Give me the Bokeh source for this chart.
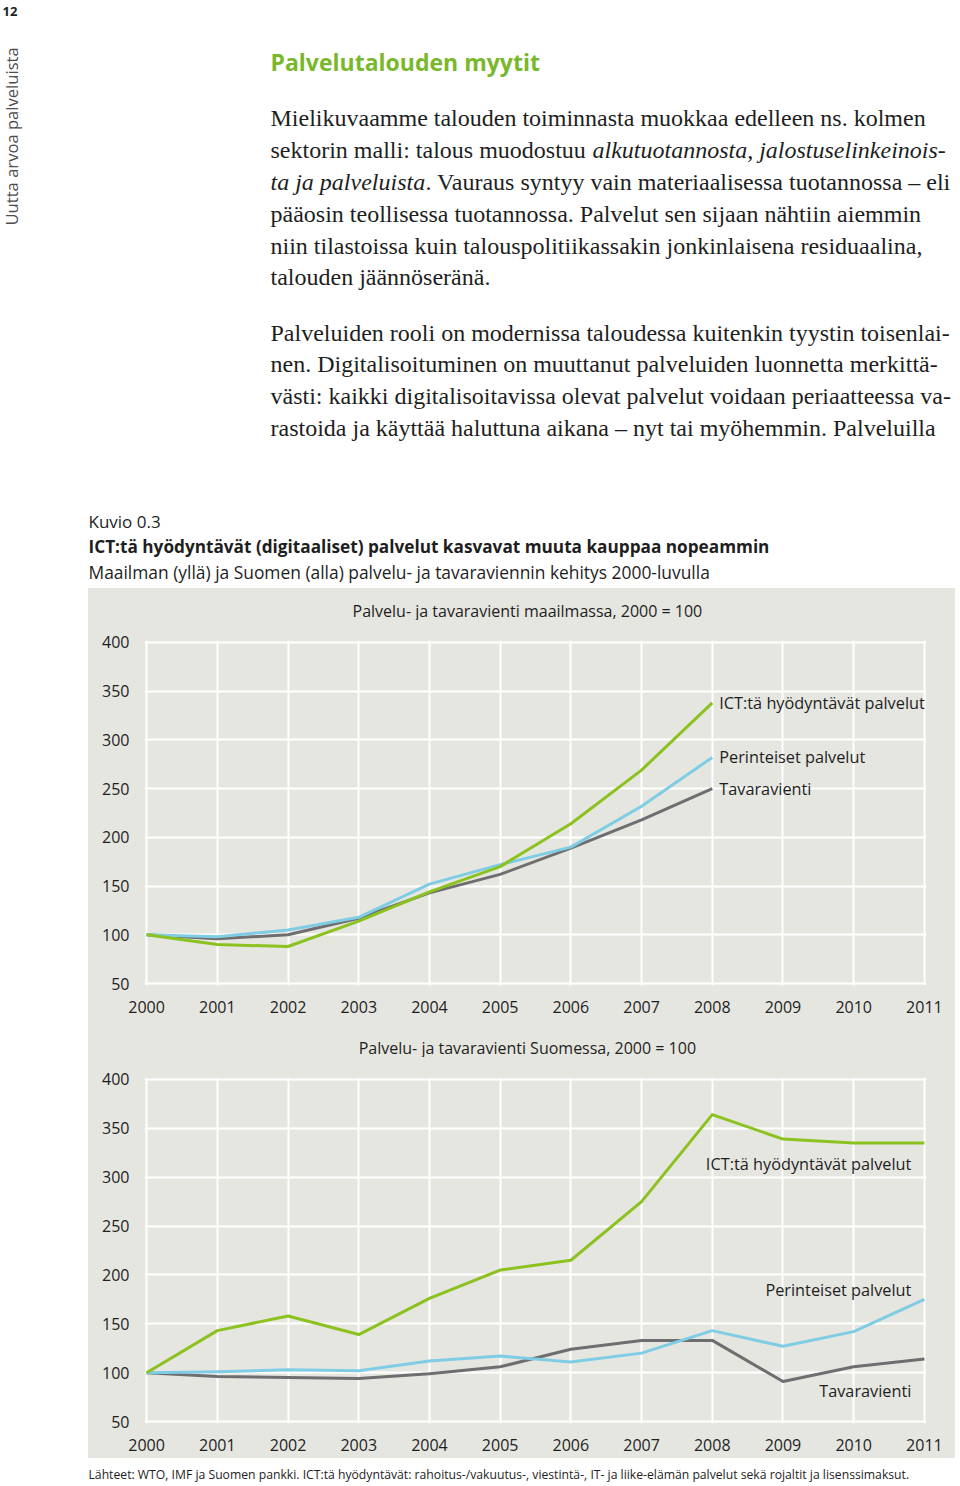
import math
from bokeh.plotting import figure
from bokeh.layouts import column, row
from bokeh.models import Range1d, FixedTicker, Spacer, ColumnDataSource
from bokeh.core.properties import value
from bokeh.embed import file_html
from bokeh.resources import INLINE

# ---------------- data ----------------
years = [2000, 2001, 2002, 2003, 2004, 2005, 2006, 2007, 2008, 2009, 2010, 2011]
world_years = years[:9]
world_ict = [100, 90, 88, 114, 144, 170, 214, 269, 338]
world_trad = [100, 98, 105, 118, 152, 172, 190, 232, 282]
world_goods = [100, 96, 100, 117, 143, 162, 189, 218, 250]
fin_ict = [100, 143, 158, 139, 176, 205, 215, 275, 364, 339, 335, 335]
fin_trad = [100, 101, 103, 102, 112, 117, 111, 120, 143, 127, 142, 175]
fin_goods = [100, 96, 95, 94, 99, 106, 124, 133, 133, 91, 106, 114]
y_ticks = [50, 100, 150, 200, 250, 300, 350, 400]
series_names = ["ICT:tä hyödyntävät palvelut", "Perinteiset palvelut", "Tavaravienti"]

GREEN = "#8cc21f"
BLUE = "#7fcde4"
GREY = "#6e6e70"
BG = "#e6e6e1"
TXT = "#1e1e1e"
SANS = "Open Sans"
SERIF = "Liberation Serif"

W = 955
LEFT = 88


def blank(width, height, x0, x1, y_top, y_bottom, bg):
    f = figure(width=width, height=height, x_range=Range1d(x0, x1),
               y_range=Range1d(y_bottom, y_top), x_axis_type=None, y_axis_type=None,
               toolbar_location=None, output_backend="svg", min_border=0,
               outline_line_color=None, background_fill_color=bg, border_fill_color=bg)
    f.grid.visible = False
    return f


def htext(fig, x, y, s, size, font=SANS, style="normal", color=TXT, align="left",
          baseline="alphabetic", angle=0):
    fig.text(x=[x], y=[y], text=[s], text_font=value(font), text_font_size=f"{size}px",
             text_font_style=style, text_color=color, text_align=align,
             text_baseline=baseline, angle=angle)


# ---------------- header (page coordinates) ----------------
hdr = blank(W, 588, 0, W, 0, 588, "white")

htext(hdr, 2, 11, "12", 13, style="bold")
htext(hdr, 11, 225, "Uutta arvoa palveluista", 16.6, color="#4d4d4d", angle=math.pi / 2)
htext(hdr, 270, 61, "Palvelutalouden myytit", 23, style="bold", color="#78b82a")

BODY = 24
base1 = [117, 149, 181, 213, 245, 276]
htext(hdr, 270, base1[0], "Mielikuvaamme talouden toiminnasta muokkaa edelleen ns. kolmen", BODY, SERIF)
htext(hdr, 270, base1[1], "sektorin malli: talous muodostuu", BODY, SERIF)
htext(hdr, 592, base1[1], "alkutuotannosta, jalostuselinkeinois-", BODY, SERIF, style="italic")
htext(hdr, 270, base1[2], "ta ja palveluista", BODY, SERIF, style="italic")
htext(hdr, 425, base1[2], ". Vauraus syntyy vain materiaalisessa tuotannossa – eli", BODY, SERIF)
htext(hdr, 270, base1[3], "pääosin teollisessa tuotannossa. Palvelut sen sijaan nähtiin aiemmin", BODY, SERIF)
htext(hdr, 270, base1[4], "niin tilastoissa kuin talouspolitiikassakin jonkinlaisena residuaalina,", BODY, SERIF)
htext(hdr, 270, base1[5], "talouden jäännöseränä.", BODY, SERIF)

para2 = [
    "Palveluiden rooli on modernissa taloudessa kuitenkin tyystin toisenlai-",
    "nen. Digitalisoituminen on muuttanut palveluiden luonnetta merkittä-",
    "västi: kaikki digitalisoitavissa olevat palvelut voidaan periaatteessa va-",
    "rastoida ja käyttää haluttuna aikana – nyt tai myöhemmin. Palveluilla",
]
for i, s in enumerate(para2):
    htext(hdr, 270, 332 + 31.8 * i, s, BODY, SERIF)

htext(hdr, LEFT, 521, "Kuvio 0.3", 17)
htext(hdr, LEFT, 546, "ICT:tä hyödyntävät (digitaaliset) palvelut kasvavat muuta kauppaa nopeammin", 17.2, style="bold")
htext(hdr, LEFT, 571, "Maailman (yllä) ja Suomen (alla) palvelu- ja tavaraviennin kehitys 2000-luvulla", 17.4)


# ---------------- chart titles (strips in page coordinates) ----------------
def title_strip(title, y_top):
    f = blank(W - LEFT, 32, LEFT, W, y_top, y_top + 32, BG)
    htext(f, 512.5, y_top + 22, title, 16, baseline="middle", align="center")
    return f


# ---------------- charts ----------------
def make_chart(xs, ict, trad, goods, height, bottom):
    p = figure(width=W - LEFT, height=height, x_range=Range1d(1999.97, 2011.03),
               y_range=Range1d(48, 402), toolbar_location=None, output_backend="svg",
               min_border_left=56, min_border_right=29, min_border_top=20,
               min_border_bottom=bottom, background_fill_color=BG,
               border_fill_color=BG, outline_line_color=None)
    p.xaxis.ticker = FixedTicker(ticks=years)
    p.yaxis.ticker = FixedTicker(ticks=y_ticks)
    for ax in (p.xaxis, p.yaxis):
        ax.axis_line_color = None
        ax.major_tick_line_color = None
        ax.minor_tick_line_color = None
        ax.major_label_text_font = SANS
        ax.major_label_text_font_size = "16px"
        ax.major_label_text_color = TXT
    p.xaxis.major_label_standoff = 9
    p.yaxis.major_label_standoff = 9
    p.grid.grid_line_color = "white"
    p.grid.grid_line_width = 2
    for ys, col in ((goods, GREY), (trad, BLUE), (ict, GREEN)):
        p.line(xs, ys, line_color=col, line_width=3, line_join="round")
    return p


t1 = title_strip("Palvelu- ja tavaravienti maailmassa, 2000 = 100", 588)
c1 = make_chart(world_years, world_ict, world_trad, world_goods, 405, 40)
end_src = ColumnDataSource(dict(x=[world_years[-1]] * 3,
                                y=[world_ict[-1], world_trad[-1], world_goods[-1]],
                                t=series_names))
c1.text(x="x", y="y", text="t", source=end_src, x_offset=7, text_font=value(SANS),
        text_font_size="16.3px", text_color=TXT, text_baseline="middle", text_align="left")

t2 = title_strip("Palvelu- ja tavaravienti Suomessa, 2000 = 100", 1025)
c2 = make_chart(years, fin_ict, fin_trad, fin_goods, 401, 35)
lab2 = ColumnDataSource(dict(x=[years[-1]] * 3, y=[314, 185, 81], t=series_names))
c2.text(x="x", y="y", text="t", source=lab2, x_offset=-13, text_font=value(SANS),
        text_font_size="16.3px", text_color=TXT, text_baseline="middle", text_align="right")

# ---------------- footer ----------------
ftr = blank(W, 26, 0, W, 1458, 1484, "white")
htext(ftr, LEFT, 1474, "Lähteet: WTO, IMF ja Suomen pankki. ICT:tä hyödyntävät: rahoitus-/vakuutus-, "
      "viestintä-, IT- ja liike-elämän palvelut sekä rojaltit ja lisenssimaksut.", 12.2)

panel = column(t1, c1, t2, c2, styles={"background-color": BG})
p = column(hdr,
           row(Spacer(width=LEFT, height=870), panel),
           ftr)

open("out.html", "w").write(file_html(p, INLINE))
